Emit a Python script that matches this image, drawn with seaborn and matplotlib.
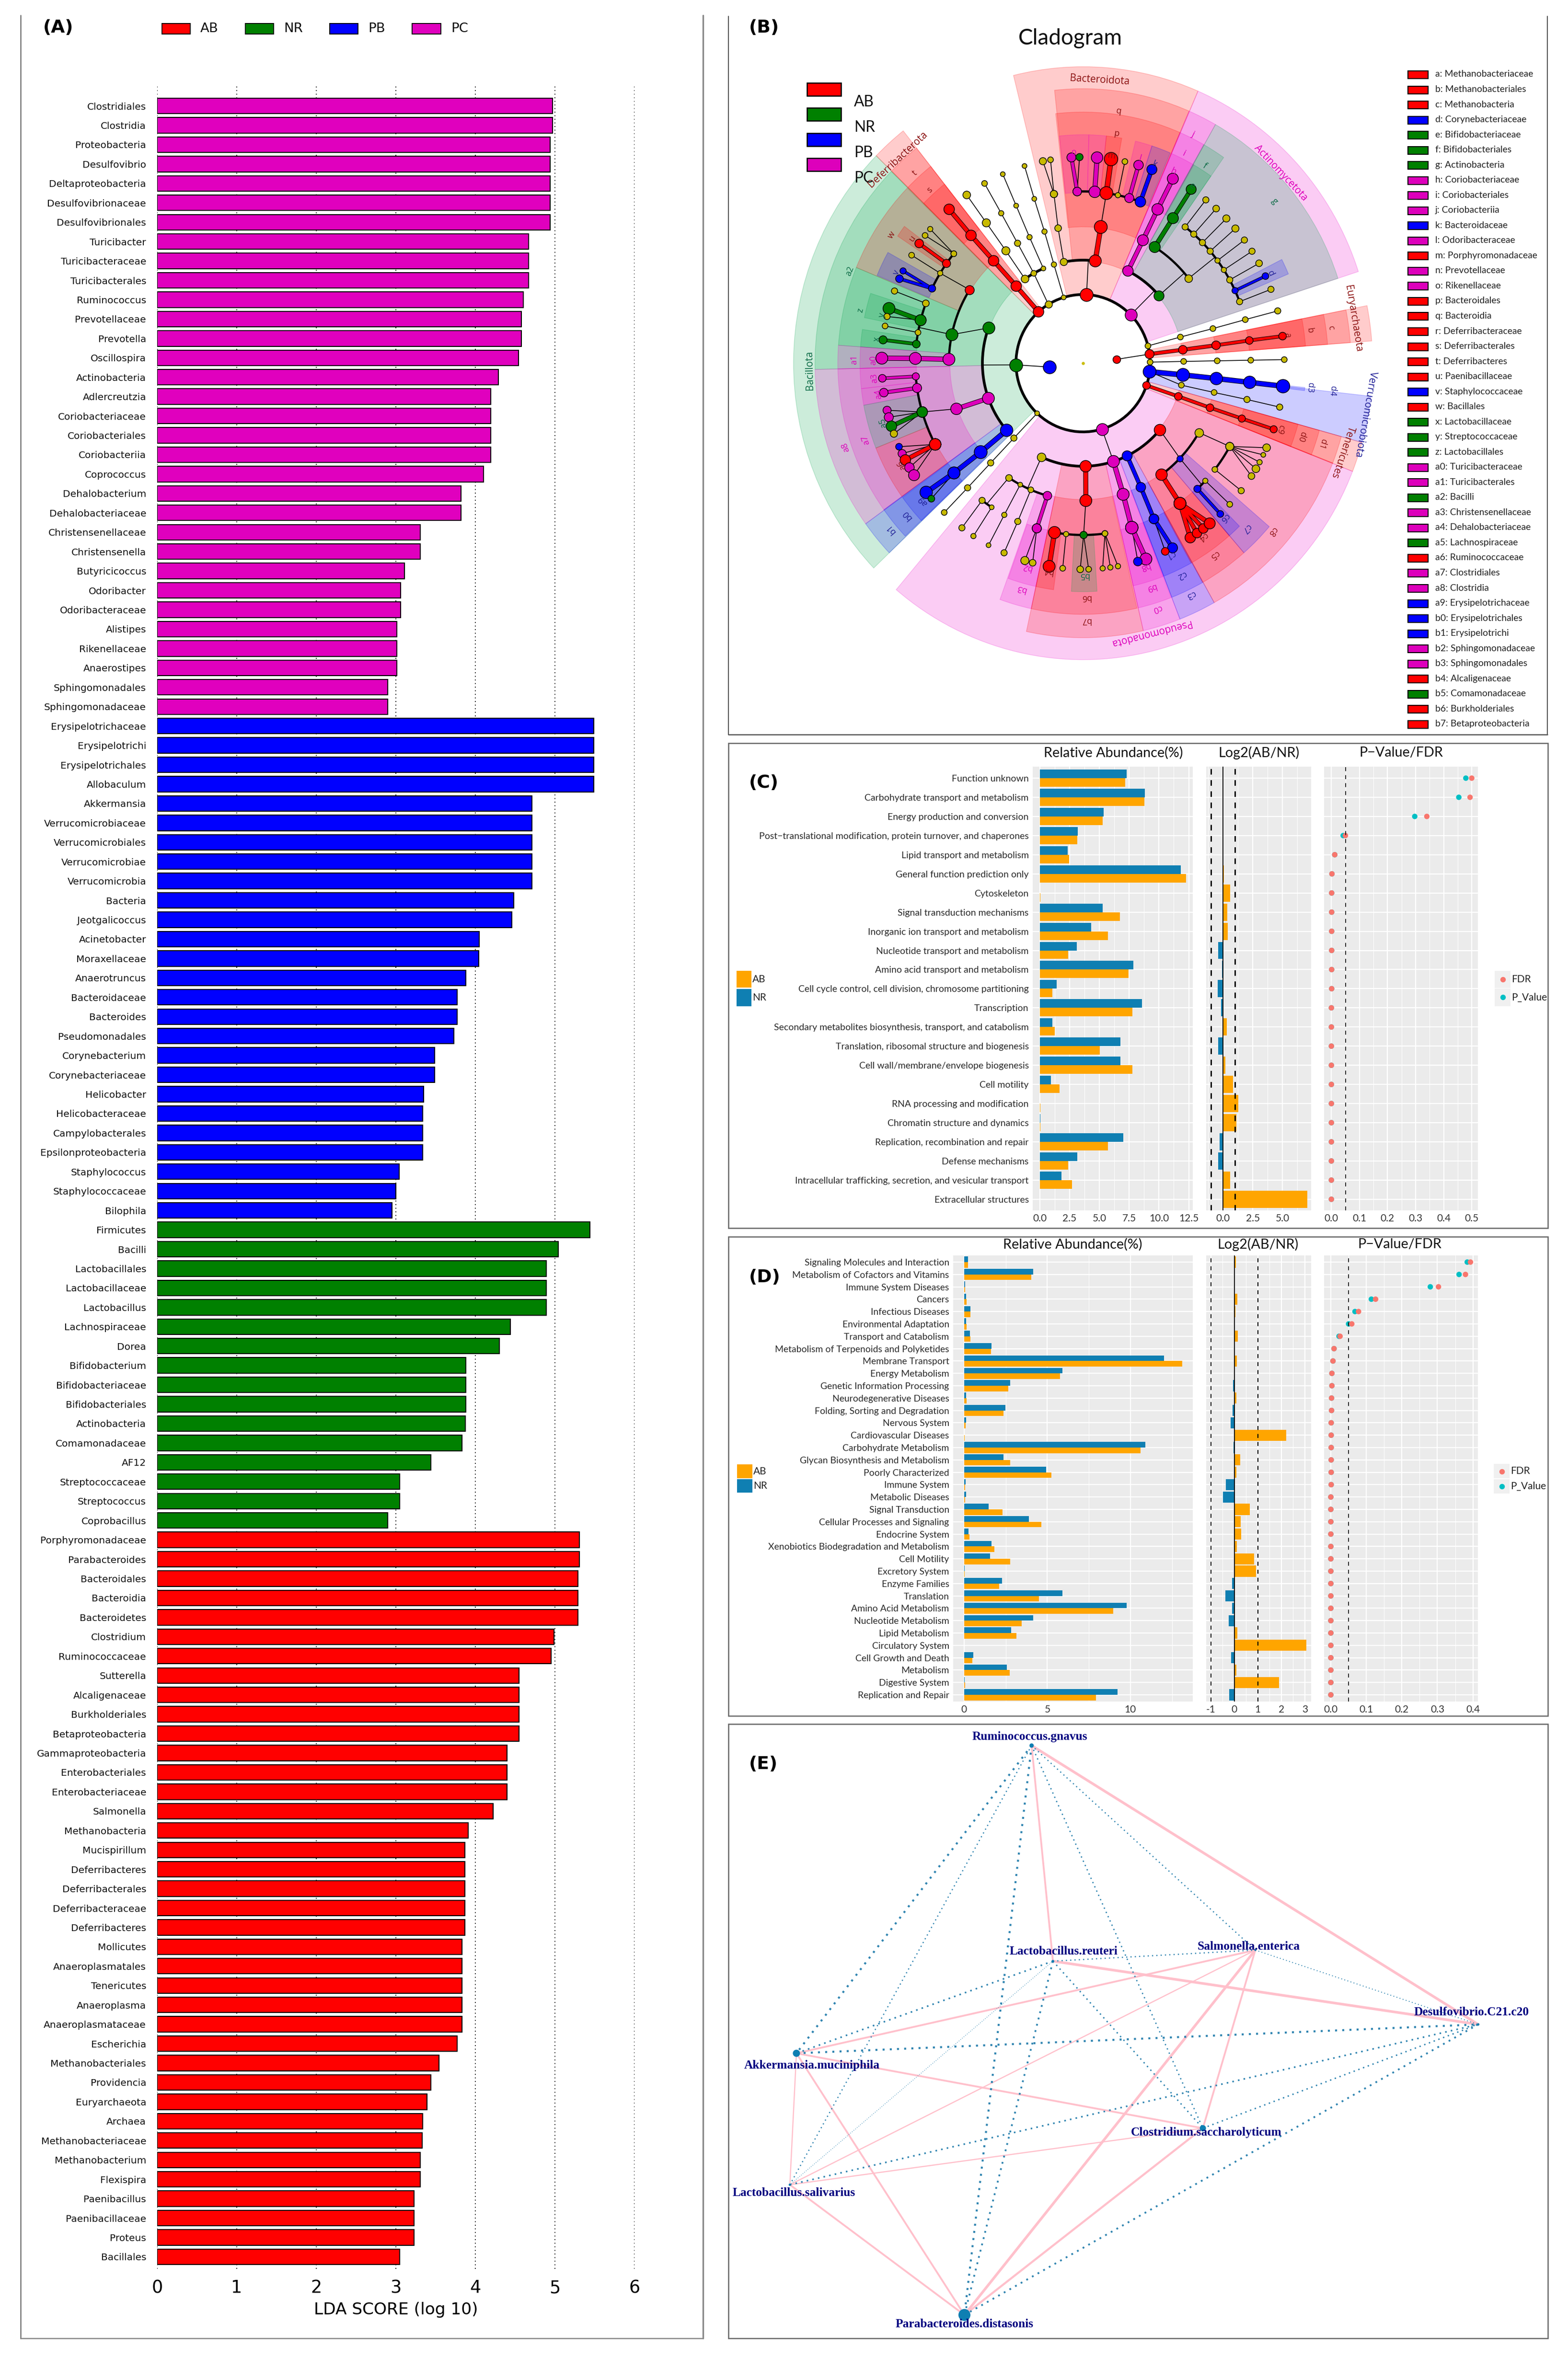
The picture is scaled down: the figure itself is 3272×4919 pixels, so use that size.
import numpy as np
import pandas as pd
import matplotlib
matplotlib.use('Agg')
import matplotlib.pyplot as plt
import seaborn as sns
from matplotlib.lines import Line2D
from matplotlib.patches import Rectangle
from matplotlib.colors import to_rgba
from matplotlib.ticker import MultipleLocator, FormatStrFormatter

# ---- panel A: LDA scores
pc_names = ['Clostridiales', 'Clostridia', 'Proteobacteria', 'Desulfovibrio', 'Deltaproteobacteria', 'Desulfovibrionaceae',
            'Desulfovibrionales', 'Turicibacter', 'Turicibacteraceae', 'Turicibacterales', 'Ruminococcus', 'Prevotellaceae',
            'Prevotella', 'Oscillospira', 'Actinobacteria', 'Adlercreutzia', 'Coriobacteriaceae', 'Coriobacteriales',
            'Coriobacteriia', 'Coprococcus', 'Dehalobacterium', 'Dehalobacteriaceae', 'Christensenellaceae', 'Christensenella',
            'Butyricicoccus', 'Odoribacter', 'Odoribacteraceae', 'Alistipes', 'Rikenellaceae', 'Anaerostipes',
            'Sphingomonadales', 'Sphingomonadaceae']
pc_scores = [4.97, 4.97, 4.94, 4.94, 4.94, 4.94, 4.94, 4.67, 4.67, 4.67, 4.60, 4.58, 4.58, 4.54, 4.29, 4.19, 4.195, 4.195,
             4.195, 4.10, 3.82, 3.82, 3.31, 3.31, 3.11, 3.06, 3.06, 3.01, 3.01, 3.01, 2.90, 2.90]
pb_names = ['Erysipelotrichaceae', 'Erysipelotrichi', 'Erysipelotrichales', 'Allobaculum', 'Akkermansia', 'Verrucomicrobiaceae',
            'Verrucomicrobiales', 'Verrucomicrobiae', 'Verrucomicrobia', 'Bacteria', 'Jeotgalicoccus', 'Acinetobacter',
            'Moraxellaceae', 'Anaerotruncus', 'Bacteroidaceae', 'Bacteroides', 'Pseudomonadales', 'Corynebacterium',
            'Corynebacteriaceae', 'Helicobacter', 'Helicobacteraceae', 'Campylobacterales', 'Epsilonproteobacteria',
            'Staphylococcus', 'Staphylococcaceae', 'Bilophila']
pb_scores = [5.49, 5.49, 5.49, 5.49, 4.71, 4.71, 4.71, 4.71, 4.71, 4.48, 4.46, 4.05, 4.04, 3.88, 3.77, 3.77, 3.73, 3.49, 3.49,
             3.35, 3.34, 3.34, 3.34, 3.04, 3.00, 2.95]
nr_names = ['Firmicutes', 'Bacilli', 'Lactobacillales', 'Lactobacillaceae', 'Lactobacillus', 'Lachnospiraceae', 'Dorea',
            'Bifidobacterium', 'Bifidobacteriaceae', 'Bifidobacteriales', 'Actinobacteria', 'Comamonadaceae', 'AF12',
            'Streptococcaceae', 'Streptococcus', 'Coprobacillus']
nr_scores = [5.44, 5.04, 4.89, 4.89, 4.89, 4.44, 4.30, 3.88, 3.88, 3.88, 3.875, 3.83, 3.44, 3.05, 3.05, 2.90]
ab_names = ['Porphyromonadaceae', 'Parabacteroides', 'Bacteroidales', 'Bacteroidia', 'Bacteroidetes', 'Clostridium',
            'Ruminococcaceae', 'Sutterella', 'Alcaligenaceae', 'Burkholderiales', 'Betaproteobacteria', 'Gammaproteobacteria',
            'Enterobacteriales', 'Enterobacteriaceae', 'Salmonella', 'Methanobacteria', 'Mucispirillum', 'Deferribacteres',
            'Deferribacterales', 'Deferribacteraceae', 'Deferribacteres', 'Mollicutes', 'Anaeroplasmatales', 'Tenericutes',
            'Anaeroplasma', 'Anaeroplasmataceae', 'Escherichia', 'Methanobacteriales', 'Providencia', 'Euryarchaeota', 'Archaea',
            'Methanobacteriaceae', 'Methanobacterium', 'Flexispira', 'Paenibacillus', 'Paenibacillaceae', 'Proteus', 'Bacillales']
ab_scores = [5.31, 5.31, 5.29, 5.29, 5.29, 4.99, 4.95, 4.55, 4.55, 4.55, 4.55, 4.40, 4.40, 4.40, 4.22, 3.91, 3.87, 3.87, 3.87,
             3.87, 3.87, 3.83, 3.83, 3.83, 3.83, 3.83, 3.77, 3.54, 3.44, 3.39, 3.34, 3.33, 3.31, 3.31, 3.23, 3.23, 3.23, 3.05]

# ---- panel B: cladogram. (start level, angles in degrees, groups, node sizes)
bacteroidota_chains = [
    (2, [87], 'r', [27]), (3, [83, 82.4], 'rr', [25, 27]), (3, [101, 100.7, 100], 'yyy', [15, 14, 15]),
    (5, [100, 101.5], 'yy', [15, 15]), (5, [100, 99.3], 'yy', [15, 12]), (5, [92, 93.3], 'mm', [18, 19]),
    (5, [92, 91], 'mg', [18, 15]), (5, [86, 86], 'mm', [24, 24]), (5, [82, 82], 'rr', [27, 28]),
    (5, [78, 78], 'yy', [11, 12]), (5, [74, 74], 'mm', [19, 20]), (5, [70, 70], 'bb', [22, 21])]
actino_chains = [
    (2, [44.7], 'm', [25]), (3, [63.5, 63.5, 63.6, 63.5], 'mmmm', [22, 23, 24, 23]), (3, [41], 'g', [21]),
    (4, [57.7, 57.6, 57.5], 'ggg', [23, 23, 21]), (4, [38.1], 'y', [16]), (5, [52.5, 52.4], 'yy', [13, 13]),
    (5, [48.7, 48.6], 'yy', [13, 14]), (5, [44.6, 44.6], 'yy', [13, 15]), (5, [40.7, 40.8], 'yy', [13, 15]),
    (5, [36.7, 36.7], 'yy', [11, 13]), (5, [32.9, 32.9], 'yy', [11, 13]), (5, [29, 29], 'yy', [13, 14]),
    (5, [25, 25], 'bb', [13, 14]), (5, [21, 21], 'yy', [13, 13])]
small_phyla_chains = [
    (1, [6.4], 'r', [16]), (2, [7.6, 7.5, 7.5, 7.6, 7.55], 'rrrrr', [19, 18, 18, 16, 16]),
    (2, [14.6, 14.7, 14.6, 14.7, 14.7], 'yyyyy', [12, 12, 12, 12, 13]), (2, [0.9, 1, 1, 1, 1], 'yyyyy', [12, 12, 12, 12, 12]),
    (2, [-7.1, -6.5, -6.4, -6.4, -6.4], 'bbbbb', [27, 27, 26, 26, 28]), (3, [-12.3, -12.3, -12.2, -12.3], 'yyyy', [12, 12, 13, 13]),
    (2, [-18.9, -18.8, -18.9, -18.8, -18.7], 'rrrrr', [16, 16, 16, 15, 15])]
pseudo_chains = [
    (2, [286.4], 'm', [25]), (3, [245.6], 'y', [18]), (3, [271.5, 271.2], 'rr', [24, 25]),
    (3, [287.6, 287.4, 286.9], 'mmm', [25, 25, 26]), (5, [286.9, 288.2], 'mm', [26, 25]), (5, [286.9, 285.8], 'mb', [26, 18]),
    (3, [296, 295.5, 295], 'bbb', [21, 20, 20]), (5, [295, 296.4], 'bb', [20, 21]), (5, [295, 294.1], 'br', [20, 16]),
    (3, [319.7], 'r', [24]), (4, [305.8, 305.3], 'rr', [24, 25]), (5, [305.3, 302.2], 'rr', [25, 22]),
    (5, [305.3, 304.5], 'rr', [25, 20]), (5, [305.3, 306.7], 'rr', [25, 20]), (5, [305.3, 309], 'rr', [25, 23]),
    (4, [316.2], 'b', [13]), (5, [313, 313], 'bb', [15, 14]), (5, [316.8, 316.8], 'yy', [11, 12]), (4, [329.7], 'y', [18]),
    (5, [321.8, 321.8], 'yy', [12, 13]), (5, [331, 326.8], 'yy', [17, 14]), (5, [331, 329.2], 'yy', [17, 16]),
    (5, [331, 331.3], 'yy', [17, 11]), (5, [331, 333.6], 'yy', [17, 10]), (5, [331, 335.8], 'yy', [17, 16]),
    (5, [260.2, 260.3], 'rr', [25, 25]), (5, [264.2, 264.2], 'yy', [11, 12]), (5, [270.2, 269.2], 'gy', [15, 14]),
    (5, [270.2, 271.6], 'gy', [15, 12]), (5, [277.5, 275.6], 'yy', [12, 11]), (5, [277.5, 277.8], 'yy', [12, 11]),
    (5, [277.5, 280], 'yy', [12, 11]), (4, [254.6, 254], 'mm', [18, 19]), (5, [254, 253.2], 'my', [19, 17]),
    (5, [254, 255.5], 'my', [19, 14]), (4, [247.1, 247.1, 246.9], 'yyy', [12, 13, 13]), (4, [242.1, 242, 242], 'yyy', [10, 11, 10]),
    (4, [236.4], 'y', [14]), (5, [237, 237], 'yy', [10, 11]), (5, [233, 233], 'yy', [13, 13]),
    (2, [226.8, 226.6, 226.5, 226.5, 226.4], 'yyyyy', [10, 13, 13, 13, 12])]
bacillota_chains = [
    (1, [186.4], 'b', [27]), (2, [181.4], 'g', [27]), (3, [160], 'g', [25]), (3, [199.9, 199.4], 'mm', [25, 24]),
    (3, [220.6, 220.3, 219.7], 'bbb', [26, 27, 25]), (5, [219.7, 218.8], 'bb', [25, 26]), (5, [219.7, 221.1], 'bg', [25, 14]),
    (5, [184.4, 184.2], 'mm', [15, 16]), (5, [188.3, 188.2], 'mm', [19, 18]), (5, [196.5, 193.2], 'gm', [22, 17]),
    (5, [196.5, 195.2], 'gm', [22, 19]), (5, [196.5, 197.8], 'gg', [22, 22]), (5, [196.5, 200], 'gy', [22, 15]),
    (5, [208.2, 203.9], 'rb', [24, 14]), (5, [208.2, 206], 'rm', [24, 17]), (5, [208.2, 208], 'rr', [24, 22]),
    (5, [208.2, 210.4], 'rm', [24, 20]), (5, [208.2, 212.9], 'rm', [24, 23]), (4, [147.7], 'r', [19]), (4, [168], 'g', [25]),
    (4, [178.4, 178.4, 178.6], 'mmm', [25, 25, 25]), (5, [159.6, 159.5], 'yy', [14, 13]), (5, [165.5, 164.6], 'gg', [23, 25]),
    (5, [165.5, 166.9], 'gy', [23, 13]), (5, [169.7, 169.6], 'yy', [12, 12]), (5, [173.6, 173.5], 'gg', [16, 17]),
    (5, [140.4, 139.4], 'yy', [12, 11]), (5, [140.4, 141.7], 'yy', [12, 12]), (5, [144.5, 144.5], 'rr', [17, 18]),
    (5, [148.4, 148.4], 'yy', [11, 12]), (5, [154.2, 153.4], 'bb', [15, 13]), (5, [154.2, 155.8], 'bb', [15, 16])]
deferri_chains = [
    (2, [131.6, 131.6, 131.8, 131.9, 131.7], 'rrrrr', [22, 22, 22, 22, 22]), (2, [121.1], 'y', [15]),
    (3, [125.2, 125.1, 125.2, 125.3], 'yyyy', [16, 17, 17, 16]), (3, [119.3, 119.2, 119.2, 119.3], 'yyyy', [12, 13, 11, 12]),
    (3, [113.2, 113.5, 113.5, 113.5], 'yyyy', [10, 11, 10, 10]), (2, [106.8, 106.8, 106.7, 106.9, 106.9], 'yyyyy', [10, 11, 11, 10, 10])]

# (level, from, to): brackets along a ring
clade_arcs = [(2, 0, 360), (3, 83, 101), (5, 70, 92), (3, 41, 63.5), (4, 38.1, 57.7), (5, 21, 52.5), (3, 245.6, 319.7),
              (4, 305.8, 329.7), (5, 313, 316.8), (5, 321.8, 331), (5, 260.2, 277.5), (4, 236.4, 254.6), (5, 233, 237),
              (3, 160, 220.6), (5, 184.4, 208.2), (4, 147.7, 178.4), (5, 159.6, 173.6), (5, 140.4, 154.2), (3, 113.2, 125.2)]
# (level, angle there, angle one level further): thin links
clade_stems = [(2, 87, 87), (4, 82.4, 82), (2, 44.7, 44.7), (3, 41, 41), (4, 38.1, 38.1), (1, 6.4, 7.6), (2, -7.1, -12.3),
               (2, 286.4, 287.6), (3, 319.7, 316.2), (4, 316.2, 315), (4, 329.7, 331), (4, 271.2, 270.2), (3, 245.6, 245.6),
               (4, 236.4, 235), (1, 186.4, 181.4), (2, 181.4, 181), (4, 199.4, 196.5), (3, 160, 168), (4, 168, 168),
               (4, 147.7, 148.4), (2, 121.1, 119.3)]

# (angle from, angle to, level, group)
phylum_sectors = [(66.6, 103.9, 2, 'r'), (18, 66.6, 2, 'm'), (4.3, 11.2, 2, 'r'), (-15.5, -6.4, 2, 'b'), (-21.4, -15.5, 2, 'r'),
                  (229.8, 338.6, 2, 'm'), (135.6, 223.7, 2, 'g'), (128.4, 135.6, 2, 'r')]
class_sectors = [(66.7, 96.1, 3, 'r'), (60.4, 66.7, 3, 'm'), (18, 60.4, 3, 'g'), (4.3, 11.2, 3, 'r'), (-21.4, -15.5, 3, 'r'),
                 (128.4, 135.6, 3, 'r'), (135.7, 181.3, 3, 'g'), (181.3, 215.8, 3, 'm'), (215.8, 223.7, 3, 'b'),
                 (257.8, 283, 3, 'r'), (283, 291.2, 3, 'm'), (291.2, 299.3, 3, 'b'), (299.3, 338.7, 3, 'r')]
order_sectors = [(66.7, 96.4, 4, 'r'), (60.5, 66.7, 4, 'm'), (55, 60.5, 4, 'g'), (4.3, 11.2, 4, 'r'), (-21.4, -15.5, 4, 'r'),
                 (128.4, 135.6, 4, 'r'), (135.8, 157.6, 4, 'r'), (157.6, 175.9, 4, 'g'), (175.9, 181.3, 4, 'm'),
                 (181.3, 215.7, 4, 'm'), (215.7, 223.5, 4, 'b'), (250.2, 257.8, 4, 'm'), (257.8, 282.7, 4, 'r'),
                 (283, 291, 4, 'm'), (291.2, 299.2, 4, 'b'), (299.2, 311, 4, 'r'), (311, 319.4, 4, 'b')]
family_sectors = [(88.5, 96.1, 5, 'm'), (84, 88.5, 5, 'm'), (80, 84, 5, 'r'), (72, 76.4, 5, 'm'), (67, 72, 5, 'b'),
                  (60.2, 66.7, 5, 'm'), (55, 60.4, 5, 'g'), (23, 27, 5, 'b'), (4.3, 11.2, 5, 'r'), (-21.4, -15.5, 5, 'r'),
                  (128.4, 135.6, 5, 'r'), (143.2, 146.2, 5, 'r'), (151, 157.4, 5, 'b'), (162.2, 168.5, 5, 'g'),
                  (171.5, 175.9, 5, 'g'), (175.9, 181.3, 5, 'm'), (181.3, 186.4, 5, 'm'), (186.4, 190.6, 5, 'm'),
                  (190.6, 201.8, 5, 'g'), (201.8, 215.7, 5, 'r'), (216, 223.6, 5, 'b'), (250.4, 257.8, 5, 'm'),
                  (257.8, 262.4, 5, 'r'), (267, 273.6, 5, 'g'), (283, 291, 5, 'm'), (291.2, 299, 5, 'b'), (299, 311, 5, 'r'),
                  (311, 314.5, 5, 'b'), (-6.9, -6.1, 5, 'b')]

# (text, angle, radius, colour key)
phylum_labels = [('Bacteroidota', 86.6, 8.25, 'R'), ('Actinomycetota', 43.2, 8.09, 'm'), ('Euryarchaeota', 9.2, 8.15, 'R'),
                 ('Verrucomicrobiota', -10, 8.55, 'B'), ('Tenericutes', -18.5, 8.16, 'R'), ('Pseudomonadota', -75.6, 8.11, 'm'),
                 ('Bacillota', 181.5, 8.16, 'G'), ('Deferribacterota', 133, 8.1, 'R')]
clade_letters = [('q', 81.7, 7.41, 'R'), ('p', 81.5, 6.76, 'R'), ('m', 82, 6.1, 'R'), ('j', 63.7, 7.43, 'm'), ('i', 63.7, 6.81, 'm'),
                 ('f', 57.7, 6.8, 'G'), ('g', 39.5, 7.41, 'G'), ('b', 8, 6.82, 'R'), ('c', 7.9, 7.46, 'R'), ('a', 7.6, 6.15, 'R'),
                 ('d3', -6, 6.81, 'B'), ('d4', -6.2, 7.49, 'B'), ('d0', -18.2, 6.86, 'R'), ('d1', -18.2, 7.51, 'R'),
                 ('c9', -18.2, 6.2, 'R'), ('c8', -40.9, 7.48, 'R'), ('c7', -44.6, 6.85, 'B'), ('c6', -46.9, 6.18, 'B'),
                 ('c5', -54.9, 6.82, 'R'), ('c4', -54.7, 6.19, 'R'), ('c3', -64.5, 7.47, 'B'), ('c2', -64.6, 6.84, 'B'),
                 ('c1', -65, 6.16, 'B'), ('c0', -72.8, 7.48, 'm'), ('b9', -72.7, 6.83, 'm'), ('b8', -72.7, 6.21, 'm'),
                 ('b7', 270.7, 7.49, 'R'), ('b6', 270.7, 6.82, 'R'), ('b5', 270.3, 6.18, 'G'), ('b4', 260.3, 6.14, 'R'),
                 ('b3', 254.3, 6.82, 'm'), ('b2', 254.3, 6.17, 'm'), ('b1', 220.1, 7.5, 'B'), ('b0', 220.1, 6.86, 'B'),
                 ('a9', 220, 6.23, 'B'), ('a8', 199, 7.49, 'm'), ('a7', 199, 6.86, 'm'), ('a2', 158.9, 7.45, 'G'),
                 ('z', 166.9, 6.81, 'G'), ('y', 167, 6.15, 'G'), ('x', 173.5, 6.2, 'G'), ('a1', 179.1, 6.82, 'm'), ('a0', 179.2, 6.25, 'm'),
                 ('a3', 184, 6.24, 'm'), ('a4', 188.4, 6.17, 'm'), ('a5', 196.3, 6.22, 'G'), ('a6', 208.7, 6.17, 'R'),
                 ('w', 146.8, 6.82, 'R'), ('t', 132.2, 7.47, 'R'), ('s', 132.2, 6.8, 'R'), ('u', 144.5, 6.25, 'R'),
                 ('v', 154.7, 6.16, 'B'), ('h', 64.2, 6.2, 'm'), ('e', 57.7, 6.1, 'G'), ('d', 25, 6.18, 'B'),
                 ('k', 69.8, 6.17, 'B'), ('l', 74.1, 6.2, 'm'), ('o', 92.5, 6.14, 'm')]

clade_key_names = ['a: Methanobacteriaceae', 'b: Methanobacteriales', 'c: Methanobacteria', 'd: Corynebacteriaceae',
                   'e: Bifidobacteriaceae', 'f: Bifidobacteriales', 'g: Actinobacteria', 'h: Coriobacteriaceae',
                   'i: Coriobacteriales', 'j: Coriobacteriia', 'k: Bacteroidaceae', 'l: Odoribacteraceae',
                   'm: Porphyromonadaceae', 'n: Prevotellaceae', 'o: Rikenellaceae', 'p: Bacteroidales', 'q: Bacteroidia',
                   'r: Deferribacteraceae', 's: Deferribacterales', 't: Deferribacteres', 'u: Paenibacillaceae',
                   'v: Staphylococcaceae', 'w: Bacillales', 'x: Lactobacillaceae', 'y: Streptococcaceae', 'z: Lactobacillales',
                   'a0: Turicibacteraceae', 'a1: Turicibacterales', 'a2: Bacilli', 'a3: Christensenellaceae',
                   'a4: Dehalobacteriaceae', 'a5: Lachnospiraceae', 'a6: Ruminococcaceae', 'a7: Clostridiales', 'a8: Clostridia',
                   'a9: Erysipelotrichaceae', 'b0: Erysipelotrichales', 'b1: Erysipelotrichi', 'b2: Sphingomonadaceae',
                   'b3: Sphingomonadales', 'b4: Alcaligenaceae', 'b5: Comamonadaceae', 'b6: Burkholderiales', 'b7: Betaproteobacteria']
clade_key_groups = 'rrrbgggmmmbmrmmrrrrrrbrgggmmgmmgrmmbbbmmrgrr'

# ---- panel C: COG functions
cog_names = ['Function unknown', 'Carbohydrate transport and metabolism', 'Energy production and conversion',
             'Post\u2212translational modification, protein turnover, and chaperones', 'Lipid transport and metabolism',
             'General function prediction only', 'Cytoskeleton', 'Signal transduction mechanisms',
             'Inorganic ion transport and metabolism', 'Nucleotide transport and metabolism', 'Amino acid transport and metabolism',
             'Cell cycle control, cell division, chromosome partitioning', 'Transcription',
             'Secondary metabolites biosynthesis, transport, and catabolism', 'Translation, ribosomal structure and biogenesis',
             'Cell wall/membrane/envelope biogenesis', 'Cell motility', 'RNA processing and modification',
             'Chromatin structure and dynamics', 'Replication, recombination and repair', 'Defense mechanisms',
             'Intracellular trafficking, secretion, and vesicular transport', 'Extracellular structures']
cog_nr = [7.27, 8.82, 5.36, 3.18, 2.32, 11.82, 0.02, 5.27, 4.32, 3.09, 7.86, 1.41, 8.59, 1.05, 6.77, 6.77, 0.91, 0.02, 0.03, 7.0, 3.14, 1.82, 0.0]
cog_ab = [7.18, 8.77, 5.27, 3.14, 2.45, 12.27, 0.03, 6.73, 5.73, 2.36, 7.45, 1.05, 7.77, 1.27, 5.05, 7.77, 1.64, 0.05, 0.05, 5.73, 2.36, 2.68, 0.01]
cog_log2 = [-0.02, 0.0, -0.02, -0.02, 0.05, 0.07, 0.59, 0.36, 0.41, -0.41, -0.1, -0.45, -0.15, 0.3, -0.41, 0.2, 0.85, 1.3, 1.14, -0.27, -0.41, 0.6, 7.09]
cog_p = [0.479, 0.454, 0.297, 0.042, 0.012, 0.002, 0.001, 0.001, 0.001, 0.001, 0.001, 0.001, 0.0, 0.0, 0.0, 0.0, 0.0, 0.0, 0.0, 0.0, 0.0, 0.0, 0.0]
cog_fdr = [0.5, 0.494, 0.34, 0.05, 0.012, 0.002, 0.001, 0.001, 0.001, 0.001, 0.001, 0.001, 0.0, 0.0, 0.0, 0.0, 0.0, 0.0, 0.0, 0.0, 0.0, 0.0, 0.0]

# ---- panel D: KEGG pathways
kegg_names = ['Signaling Molecules and Interaction', 'Metabolism of Cofactors and Vitamins', 'Immune System Diseases', 'Cancers',
              'Infectious Diseases', 'Environmental Adaptation', 'Transport and Catabolism', 'Metabolism of Terpenoids and Polyketides',
              'Membrane Transport', 'Energy Metabolism', 'Genetic Information Processing', 'Neurodegenerative Diseases',
              'Folding, Sorting and Degradation', 'Nervous System', 'Cardiovascular Diseases', 'Carbohydrate Metabolism',
              'Glycan Biosynthesis and Metabolism', 'Poorly Characterized', 'Immune System', 'Metabolic Diseases', 'Signal Transduction',
              'Cellular Processes and Signaling', 'Endocrine System', 'Xenobiotics Biodegradation and Metabolism', 'Cell Motility',
              'Excretory System', 'Enzyme Families', 'Translation', 'Amino Acid Metabolism', 'Nucleotide Metabolism', 'Lipid Metabolism',
              'Circulatory System', 'Cell Growth and Death', 'Metabolism', 'Digestive System', 'Replication and Repair']
kegg_nr = [0.23, 4.14, 0.07, 0.13, 0.39, 0.13, 0.36, 1.66, 12.02, 5.9, 2.77, 0.13, 2.48, 0.12, 0.01, 10.91, 2.38, 4.92, 0.1, 0.12, 1.47,
           3.88, 0.26, 1.66, 1.56, 0.03, 2.28, 5.9, 9.77, 4.14, 2.83, 0.0, 0.55, 2.57, 0.03, 9.22]
kegg_ab = [0.23, 4.04, 0.07, 0.14, 0.39, 0.14, 0.39, 1.63, 13.13, 5.77, 2.64, 0.14, 2.38, 0.1, 0.02, 10.62, 2.77, 5.24, 0.07, 0.07, 2.31,
           4.63, 0.33, 1.82, 2.77, 0.04, 2.12, 4.5, 8.96, 3.45, 3.13, 0.01, 0.49, 2.74, 0.06, 7.92]
kegg_log2 = [0.06, 0.0, 0.03, 0.12, 0.05, 0.03, 0.14, -0.02, 0.11, -0.02, -0.05, 0.09, -0.07, -0.16, 2.2, -0.03, 0.24, 0.09, -0.37, -0.48,
             0.66, 0.27, 0.28, 0.11, 0.84, 0.92, -0.09, -0.38, -0.1, -0.25, 0.13, 3.06, -0.14, 0.09, 1.9, -0.22]
kegg_p = [0.384, 0.361, 0.28, 0.114, 0.068, 0.05, 0.023, 0.009, 0.006, 0.003, 0.003, 0.002, 0.002, 0.001, 0.001, 0.001, 0.001, 0.001, 0.001,
          0.0, 0.0, 0.0, 0.0, 0.0, 0.0, 0.0, 0.0, 0.0, 0.0, 0.0, 0.0, 0.0, 0.0, 0.0, 0.0, 0.0]
kegg_fdr = [0.393, 0.379, 0.303, 0.126, 0.078, 0.059, 0.026, 0.009, 0.006, 0.003, 0.003, 0.002, 0.002, 0.001, 0.001, 0.001, 0.001, 0.001, 0.001,
            0.0, 0.0, 0.0, 0.0, 0.0, 0.0, 0.0, 0.0, 0.0, 0.0, 0.0, 0.0, 0.0, 0.0, 0.0, 0.0, 0.0]

# ---- panel E: correlation network (layout units 0-100)
net_names = ['Ruminococcus.gnavus', 'Lactobacillus.reuteri', 'Salmonella.enterica', 'Desulfovibrio.C21.c20', 'Akkermansia.muciniphila',
             'Clostridium.saccharolyticum', 'Lactobacillus.salivarius', 'Parabacteroides.distasonis']
net_x = [37.0, 39.6, 64.3, 91.5, 8.3, 57.9, 7.5, 28.8]
net_y = [96.5, 61.4, 63.2, 51.1, 46.4, 34.2, 25.0, 3.8]
net_size = [9, 5, 4, 5, 15, 13, 5, 25]
net_label_dx = [-0.2, 1.3, -0.8, -0.8, 1.9, 0.4, 0.5, 0.0]
net_label_dy = [1.4, 1.6, 0.6, 2.0, -2.0, -0.7, -1.3, -1.5]
# (from, to, strength)
pos_edges = [(0, 1, 0.7), (0, 3, 1.0), (1, 3, 1.0), (2, 4, 0.7), (2, 6, 0.45), (2, 7, 1.0), (2, 5, 0.7), (4, 5, 0.7), (4, 6, 0.45),
             (4, 7, 0.7), (6, 5, 0.45), (6, 7, 0.7), (5, 7, 0.8)]
neg_edges = [(0, 4, 1.0), (0, 6, 0.6), (0, 7, 1.0), (0, 5, 0.65), (0, 2, 0.6), (1, 2, 0.6), (1, 4, 0.8), (1, 6, 0.3), (1, 7, 0.9),
             (1, 5, 0.7), (2, 3, 0.45), (4, 3, 1.0), (6, 3, 0.8), (5, 3, 0.7), (7, 3, 0.9)]

W, H = 3272, 4919
DPI = 300
PT = DPI / 72.0   # pixels per point

GROUP = {'r': '#FF0000', 'g': '#008000', 'b': '#0000FF', 'm': '#DD00BB', 'y': '#C8BA00'}
SECTOR = {'r': '#FF0000', 'g': '#00A24A', 'b': '#0000FF', 'm': '#EC00C8'}
TEXTC = {'R': '#8B1010', 'G': '#0B6A45', 'B': '#1E1E96', 'm': '#DD00BB'}
NARROW = ['Lato', 'DejaVu Sans']
LBL = {'AB': '#FFA500', 'NR': '#0F7FB2'}

sns.set_theme(style='white')
plt.rcParams['font.family'] = ['DejaVu Sans']

fig = plt.figure(figsize=(W / DPI, H / DPI), dpi=DPI, facecolor='white')


def px_axes(x0, y0, x1, y1, **kw):
    return fig.add_axes([x0 / W, 1 - y1 / H, (x1 - x0) / W, (y1 - y0) / H], **kw)


def ftext(x, y, s, **kw):
    kw.setdefault('va', 'center')
    return fig.text(x / W, 1 - y / H, s, **kw)


def frect(x0, y0, x1, y1, color, lw=0.5, ec='black'):
    fig.add_artist(Rectangle((x0 / W, 1 - y1 / H), (x1 - x0) / W, (y1 - y0) / H, transform=fig.transFigure,
                             facecolor=color, edgecolor=ec, linewidth=lw))


def fline(x0, y0, x1, y1, color='#6a6a6a', lw=0.6):
    fig.add_artist(Line2D([x0 / W, x1 / W], [1 - y0 / H, 1 - y1 / H], transform=fig.transFigure, color=color, linewidth=lw))


# panel frames
fline(43, 32, 43, 4880, '#888888', 0.7)
fline(1467, 32, 1467, 4880, '#888888', 0.8)
fline(43, 4880, 1467, 4880, '#888888', 0.6)
fline(1520, 34, 1520, 1533, '#555555', 0.5)
fline(3229, 34, 3229, 1533, '#555555', 0.5)
fline(1520, 1533, 3229, 1533, '#555555', 0.6)
for top, bottom in [(1551, 2563), (2581, 3581), (3598, 4880)]:
    frect(1520, top, 3230, bottom, 'none', 0.6, '#666666')

# ---------------- panel A
names_a = pc_names + pb_names + nr_names + ab_names
scores_a = pc_scores + pb_scores + nr_scores + ab_scores
groups_a = ['PC'] * len(pc_names) + ['PB'] * len(pb_names) + ['NR'] * len(nr_names) + ['AB'] * len(ab_names)
df_a = pd.DataFrame({'row': np.arange(len(names_a)), 'score': scores_a, 'group': groups_a})
pal_a = {'AB': '#FF0000', 'NR': '#008000', 'PB': '#0000FF', 'PC': '#E000BE'}

ax = px_axes(328, 179, 1324, 4735)
sns.barplot(data=df_a, x='score', y='row', hue='group', palette=pal_a, orient='y', native_scale=True, dodge=False,
            width=0.8, saturation=1, edgecolor='black', linewidth=0.5, legend=False, ax=ax)
ax.set_xlim(0, 6)
ax.set_ylim(111.62, -1.04)
ax.set_yticks(df_a['row'])
ax.set_yticklabels(names_a, fontsize=4.85, color='#111111')
ax.tick_params(axis='y', length=0, pad=5.5)
ax.set_xticks(range(7))
ax.tick_params(axis='x', length=3.6, width=0.35, labelsize=8.8, pad=1.5, color='black', labelcolor='black')
ax.set_xlabel('LDA SCORE (log 10)', fontsize=8.25, labelpad=2.6, color='black')
ax.set_ylabel('')
ax.xaxis.grid(True, linestyle=(0, (1, 3)), color='black', linewidth=0.45)
ax.set_axisbelow(True)
sns.despine(ax=ax, left=True, bottom=True, top=True, right=True)
ax.patch.set_alpha(0)

for x0, x1, lab_x, lab in [(338, 397, 418, 'AB'), (512, 571, 592, 'NR'), (688, 747, 768, 'PB'), (860, 920, 941, 'PC')]:
    frect(x0, 49, x1, 71, pal_a[lab], 0.45)
    ftext(lab_x, 60, lab, fontsize=6.6, color='#111111')

for x, y, lab in [(90, 58, '(A)'), (1563, 58, '(B)'), (1563, 1634, '(C)'), (1563, 2666, '(D)'), (1563, 3682, '(E)')]:
    ftext(x, y, lab, fontsize=9, fontweight='bold', color='black', family='DejaVu Sans')

# ---------------- panel B
rmax = 8.7
ax = px_axes(2260 - rmax * 70, 758 - rmax * 71.7, 2260 + rmax * 70, 758 + rmax * 71.7, projection='polar')
ax.set_aspect('auto')
sector_outer = {2: 8.63, 3: 7.99, 4: 7.31, 5: 6.65}
for sectors in [phylum_sectors, class_sectors, order_sectors, family_sectors]:
    for lo, hi, level, grp in sectors:
        r0 = level - 0.03
        ax.bar(np.radians(((lo + hi) / 2) % 360), sector_outer[level] - r0, width=np.radians(hi - lo), bottom=r0,
               color=to_rgba(SECTOR[grp], 0.2), edgecolor=to_rgba(SECTOR[grp], 0.22), linewidth=0.35, zorder=1)

for level, lo, hi in clade_arcs:
    t = np.radians(np.linspace(lo, hi, 90 if hi - lo > 100 else 30))
    ax.plot(t, np.full(t.shape, level), color='black', linewidth=1.35 if level < 4 else 1.1, zorder=3, solid_capstyle='round')
for level, t0, t1 in clade_stems:
    ax.plot(np.radians([t0, t1]), [level, level + 1], color='black', linewidth=0.4, zorder=2)

all_chains = bacteroidota_chains + actino_chains + small_phyla_chains + pseudo_chains + bacillota_chains + deferri_chains
for start, thetas, grps, sizes in all_chains:
    t = np.radians(np.array(thetas) % 360)
    levels = start + np.arange(len(thetas))
    for i in range(len(thetas) - 1):
        if grps[i] == grps[i + 1] and grps[i] != 'y':
            lw = min(sizes[i], sizes[i + 1]) * 0.34 / PT
            ax.plot(t[i:i + 2], levels[i:i + 2], color='black', linewidth=lw + 0.5, zorder=3, solid_capstyle='butt')
            ax.plot(t[i:i + 2], levels[i:i + 2], color=GROUP[grps[i]], linewidth=lw, zorder=3.1, solid_capstyle='butt')
        else:
            ax.plot(t[i:i + 2], levels[i:i + 2], color='black', linewidth=0.4, zorder=2)
    ax.scatter(t, levels, s=(np.array(sizes) / PT) ** 2, c=[GROUP[g] for g in grps], edgecolors='black', linewidths=0.35, zorder=4)
ax.scatter([0], [0], s=0.3, c=GROUP['y'], zorder=4)

for txt, theta, r, key in phylum_labels:
    ax.text(np.radians(theta % 360), r, txt, rotation=theta - 90, rotation_mode='anchor', ha='center', va='center',
            fontsize=5.0, color=TEXTC[key], family='Open Sans', zorder=5)
for txt, theta, r, key in clade_letters:
    ax.text(np.radians(theta % 360), r, txt, rotation=theta - 90, rotation_mode='anchor', ha='center', va='center',
            fontsize=4.3, color=TEXTC[key], family='Open Sans', zorder=5)
ax.set_rlim(0, rmax)
ax.set_axis_off()

ftext(2233, 80, 'Cladogram', fontsize=11, ha='center', color='#111111', family='Lato')
for i, lab in enumerate(['AB', 'NR', 'PB', 'PC']):
    frect(1684, 173 + i * 52.5, 1755, 200 + i * 52.5, GROUP['rgbm'[i]], 0.6)
    ftext(1782, 213 + i * 53, lab, fontsize=7.6, color='#111111', family='Lato')
for i, lab in enumerate(clade_key_names):
    y = 156 + i * 31.53
    frect(2938, y - 8, 2980, y + 8, GROUP[clade_key_groups[i]], 0.5)
    ftext(2995, y - 1, lab, fontsize=4.65, color='#222222', family='Lato')


# ---------------- panels C and D
def gg_axes(a, major, minor=None):
    a.set_facecolor('#EBEBEB')
    a.grid(True, axis='both', which='major', color='white', linewidth=0.55)
    if minor is not None:
        a.xaxis.set_minor_locator(MultipleLocator(minor))
        a.grid(True, axis='x', which='minor', color='white', linewidth=0.25)
    a.xaxis.set_major_locator(MultipleLocator(major))
    a.set_axisbelow(True)
    a.set_xlabel('')
    a.set_ylabel('')
    for s in a.spines.values():
        s.set_visible(False)
    a.tick_params(axis='both', which='both', length=0)


def function_panel(names, nr, ab, log2, p, fdr, cols, ylim, limits, steps, fmt, vlines, label_size, tick_y_pad, rel_minor):
    rows = np.arange(len(names))
    df = pd.DataFrame({'name': names * 2, 'value': nr + ab, 'group': ['NR'] * len(names) + ['AB'] * len(names)})
    a1 = px_axes(*cols[0])
    sns.barplot(data=df, x='value', y='name', hue='group', order=names, hue_order=['NR', 'AB'], palette=LBL, saturation=1,
                width=0.9, gap=0, linewidth=0, edgecolor='none', legend=False, ax=a1)
    gg_axes(a1, steps[0], rel_minor)
    a1.set_xlim(*limits[0])
    a1.set_ylim(*ylim)
    a1.set_yticks(rows)
    a1.set_yticklabels(names, fontsize=label_size, family=NARROW, color='#2a2a2a')
    a1.tick_params(axis='y', pad=2.0)

    df2 = pd.DataFrame({'name': names, 'log2': log2, 'sign': ['AB' if v >= 0 else 'NR' for v in log2]})
    a2 = px_axes(*cols[1])
    sns.barplot(data=df2, x='log2', y='name', hue='sign', order=names, hue_order=['NR', 'AB'], palette=LBL, saturation=1,
                width=0.9, dodge=False, linewidth=0, edgecolor='none', legend=False, ax=a2)
    gg_axes(a2, steps[1], steps[1] / 2.0)
    a2.set_xlim(*limits[1])
    a2.set_ylim(*ylim)
    a2.set_yticks(rows)
    a2.set_yticklabels([])
    a2.axvline(0, color='black', linewidth=0.5)
    for v in (-1, 1):
        a2.axvline(v, color='black', linewidth=vlines, linestyle=(0, (4, 4)))

    df3 = pd.DataFrame({'row': np.r_[rows, rows], 'value': p + fdr, 'stat': ['P_Value'] * len(names) + ['FDR'] * len(names)})
    a3 = px_axes(*cols[2])
    sns.scatterplot(data=df3, x='value', y='row', hue='stat', palette={'FDR': '#F8766D', 'P_Value': '#00BFC4'},
                    s=7.5, linewidth=0, legend=False, ax=a3)
    gg_axes(a3, steps[2], steps[2] / 2.0)
    a3.set_xlim(*limits[2])
    a3.set_ylim(*ylim)
    a3.set_yticks(rows)
    a3.set_yticklabels([])
    a3.axvline(0.05, color='black', linewidth=0.4, linestyle=(0, (5, 5)))

    for a, st in zip([a1, a2, a3], fmt):
        a.xaxis.set_major_formatter(FormatStrFormatter(st))
        plt.setp(a.get_xticklabels(), fontsize=5.0, family=NARROW, color='#333333')
        a.tick_params(axis='x', pad=tick_y_pad)


function_panel(cog_names, cog_nr, cog_ab, cog_log2, cog_p, cog_fdr,
               [(2155, 1600, 2489, 2526), (2517, 1600, 2736, 2526), (2763, 1600, 3084, 2526)],
               (22.58, -0.6), [(-0.6, 12.84), (-1.41, 7.4), (-0.026, 0.522)], (2.5, 2.5, 0.1),
               ['%.1f', '%.1f', '%.1f'], 0.7, 4.7, 1.6, 1.25)
function_panel(kegg_names, kegg_nr, kegg_ab, kegg_log2, kegg_p, kegg_fdr,
               [(1989, 2620, 2489, 3551), (2517, 2620, 2736, 3551), (2763, 2620, 3084, 3551)],
               (35.54, -0.54), [(-0.66, 13.75), (-1.2, 3.27), (-0.019, 0.414)], (5, 1, 0.1),
               ['%d', '%d', '%.1f'], 0.5, 4.65, 1.6, 2.5)

for title_y, centers in [(1571, (2323, 2627, 2924)), (2597, (2238, 2625, 2921))]:
    for cx, ttl in zip(centers, ['Relative Abundance(%)', 'Log2(AB/NR)', 'P\u2212Value/FDR']):
        ftext(cx, title_y, ttl, fontsize=6.9, ha='center', family=NARROW, color='#111111')

# small keys beside the two function panels
for ab_box, nr_box, px0, boxes in [((1537, 2026, 1568, 2061), (1537, 2064, 1568, 2100), 3119, (2026, 2062, 2063, 2100)),
                                   ((1538, 3056, 1570, 3085), (1538, 3087, 1570, 3115), 3117, (3055, 3085, 3087, 3117))]:
    frect(*ab_box, LBL['AB'], 0, 'none')
    frect(*nr_box, LBL['NR'], 0, 'none')
    ftext(ab_box[2] + 2, (ab_box[1] + ab_box[3]) / 2, 'AB', fontsize=5.0, family=NARROW, color='#222222')
    ftext(nr_box[2] + 2, (nr_box[1] + nr_box[3]) / 2, 'NR', fontsize=5.0, family=NARROW, color='#222222')
    frect(px0, boxes[0], px0 + 33, boxes[1], '#F0F0F0', 0, 'none')
    frect(px0, boxes[2], px0 + 33, boxes[3], '#F0F0F0', 0, 'none')
    key_ax = px_axes(px0, boxes[0], px0 + 33, boxes[3])
    key_ax.set_zorder(5)
    key_ax.set_axis_off()
    key_ax.set_xlim(0, 1)
    key_ax.set_ylim(1, 0)
    key_ax.scatter([0.5], [0.25], s=7.5, c='#F8766D', linewidths=0)
    key_ax.scatter([0.5], [0.75], s=7.5, c='#00BFC4', linewidths=0)
    ftext(px0 + 35, (boxes[0] + boxes[1]) / 2, 'FDR', fontsize=5.0, family=NARROW, color='#222222')
    ftext(px0 + 35, (boxes[2] + boxes[3]) / 2, 'P_Value', fontsize=5.0, family=NARROW, color='#222222')

# ---------------- panel E
ax = px_axes(1520, 3598, 3230, 4880)
ax.set_xlim(0, 100)
ax.set_ylim(0, 100)
ax.set_axis_off()
for a, b, w in pos_edges:
    ax.plot([net_x[a], net_x[b]], [net_y[a], net_y[b]], color='#FFC0CB', linewidth=1.3 * w, zorder=1)
for a, b, w in neg_edges:
    ax.plot([net_x[a], net_x[b]], [net_y[a], net_y[b]], color='#2F84B0', linewidth=1.0 * w, zorder=2,
            linestyle=(0, (1, 2.6)))
net_df = pd.DataFrame({'x': net_x, 'y': net_y, 'size': (np.array(net_size) / PT) ** 2})
sns.scatterplot(data=net_df, x='x', y='y', s=net_df['size'].values, color='#0F7FB2', linewidth=0, legend=False, ax=ax, zorder=3)
ax.set_xlabel('')
ax.set_ylabel('')
for i, name in enumerate(net_names):
    ax.text(net_x[i] + net_label_dx[i], net_y[i] + net_label_dy[i], name, ha='center', va='center', fontsize=6.1,
            fontweight='bold', family='Liberation Serif', color='#00007F', zorder=4)

fig.savefig('out.png', dpi=DPI, facecolor='white')
